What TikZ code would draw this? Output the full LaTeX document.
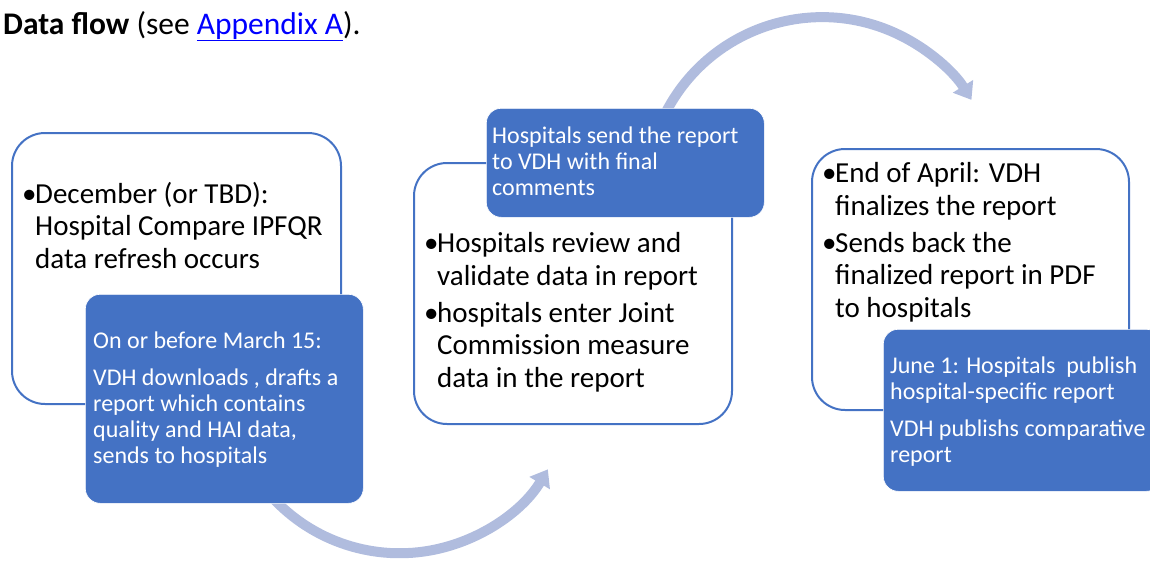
\documentclass[tikz,border=0pt]{standalone}
\usepackage{fontspec}
\setmainfont{Carlito}
\usetikzlibrary{arrows.meta}
\definecolor{office}{RGB}{68,114,196}
\definecolor{flowline}{RGB}{176,188,222}
\definecolor{linkblue}{RGB}{0,0,255}
\newcommand\itm{\makebox[13pt][l]{\textbullet}}
\newcommand\ind{\hspace*{13pt}}
\begin{document}
\begin{tikzpicture}[x=1pt,y=-1pt,
  stage/.style={draw=office,line width=2pt,fill=white,rounded corners=33pt,anchor=north west,inner sep=0pt},
  note/.style={draw=white,line width=0.6pt,fill=office,rounded corners=15pt,anchor=north west,inner sep=0pt,minimum width=278pt},
  bigtxt/.style={anchor=base west,inner sep=0pt,align=left,font=\fontsize{29}{32.5}\selectfont},
  smalltxt/.style={anchor=base west,inner sep=0pt,align=left,text=white,font=\fontsize{24}{26}\selectfont},
  flow/.style={draw=flowline,line width=10pt,-{Triangle[width=23pt,length=16pt]}}]
  \useasboundingbox (0,0) rectangle (1150,562);
  \node[anchor=base west,inner sep=0pt,font=\fontsize{31.5}{36}\selectfont] (title) at (3,34)
    {\textbf{Data flow} (see \textcolor{linkblue}{\underline{Appendix A}}).};
  % curved arrows behind the boxes
  \coordinate (dn) at (271,496);
  \coordinate (up) at (664,116);
  \draw[flow] (dn) arc[start angle=138,end angle=31,radius=173];
  \draw[flow] (up) arc[start angle=206,end angle=328,radius=176];
  % white boxes
  \node[stage,minimum width=329,minimum height=271] (dec) at (11,132) {};
  \node[stage,minimum width=318,minimum height=261] (rev) at (413,162) {};
  \node[stage,minimum width=317,minimum height=261] (fin) at (811,148) {};
  % blue boxes
  \node[note,minimum height=209] (mar) at (85,294) {};
  \node[note,minimum height=109] (snd) at (486,108) {};
  \node[note,minimum height=162] (jun) at (883,329) {};
  % texts (anchored at the last baseline)
  \node[bigtxt] (dectxt) at (22,268) {\itm December (or TBD):\\\ind Hospital Compare IPFQR\\\ind data refresh occurs};
  \node[bigtxt] (revtxt) at (424,387) {\itm Hospitals review and\\\ind validate data in report\\[4.5pt]\itm hospitals enter Joint\\\ind Commission measure\\\ind data in the report};
  \node[bigtxt] (fintxt) at (822,317) {\itm End of April: VDH\\\ind finalizes the report\\[4.5pt]\itm Sends back the\\\ind finalized report in PDF\\\ind to hospitals};
  \node[smalltxt] (martxt) at (93,463) {On or before March 15:\\[11pt]VDH downloads , drafts a\\report which contains\\quality and HAI data,\\sends to hospitals};
  \node[smalltxt] (sndtxt) at (492,195) {Hospitals send the report\\to VDH with final\\comments};
  \node[smalltxt] (juntxt) at (890,462) {June 1: Hospitals\ \ publish\\hospital-specific report\\[11pt]VDH publishs comparative\\report};
\end{tikzpicture}
\end{document}
